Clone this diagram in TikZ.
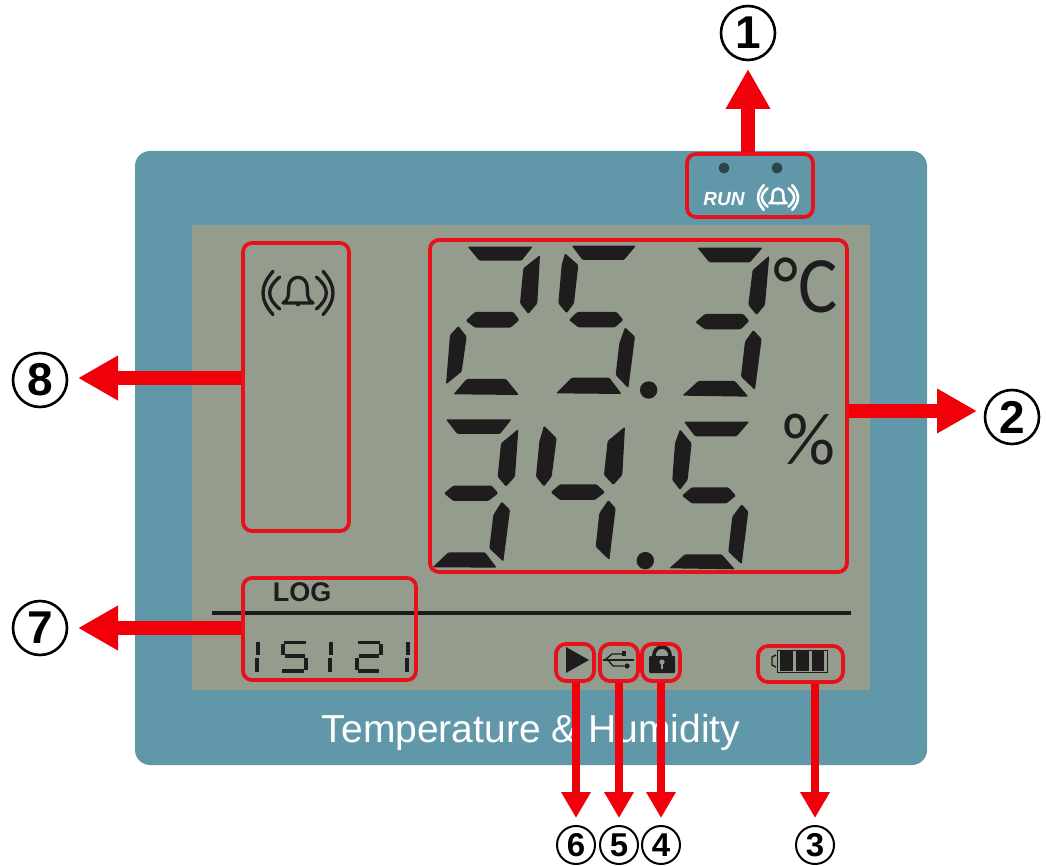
\documentclass[tikz,border=0pt]{standalone}
\usepackage{fontspec}
\setmainfont{Liberation Sans}
\newfontfamily\thinfont{Carlito}
\usetikzlibrary{arrows.meta}
\definecolor{panelc}{HTML}{6198A9}
\definecolor{lcdc}{HTML}{949C8E}
\definecolor{inkc}{HTML}{1F1C1E}
\definecolor{redc}{HTML}{E8101A}
\definecolor{arrowc}{HTML}{F00008}
\newcommand{\sz}[1]{\fontsize{#1}{#1}\selectfont}
\tikzset{
  callbox/.style={draw=redc,line width=3.8pt,rounded corners=9pt,inner sep=0pt,fill=none},
  iconbox/.style={draw=redc,line width=3.8pt,rounded corners=10pt,inner sep=0pt,fill=none},
  bigarrow/.style={draw=arrowc,line width=14pt,-{Triangle[width=42pt,length=40pt,fill=arrowc]}},
  smallarrow/.style={draw=arrowc,line width=8pt,-{Triangle[width=28pt,length=26pt,fill=arrowc]}},
  bignum/.style={circle,draw=black,line width=2.6pt,minimum size=54pt,inner sep=0pt,font=\bfseries\sz{46}},
  smallnum/.style={circle,draw=black,line width=2pt,minimum size=38pt,inner sep=0pt,font=\bfseries\sz{33}},
  seg/.style={fill=inkc,draw=none,rounded corners=1.2pt},
  miniseg/.style={draw=inkc,line width=3.3pt},
  pics/bellicon/.style n args={2}{code={
    \draw[#1,line width=#2,line join=round,line cap=round]
      (-45,30) .. controls (-28,22) and (-28,5) .. (-28,-15)
      .. controls (-28,-35) and (-15,-47) .. (0,-47)
      .. controls (15,-47) and (28,-35) .. (28,-15)
      .. controls (28,5) and (28,22) .. (45,30) -- cycle;
    \fill[#1] (-8,32) arc[start angle=180,end angle=360,x radius=8,y radius=-8] -- cycle;
    \draw[#1,line width=#2,line cap=round] (-55,-48) .. controls (-95,-15) and (-95,15) .. (-55,48);
    \draw[#1,line width=#2,line cap=round] (-75,-65) .. controls (-115,-20) and (-115,20) .. (-75,65);
    \draw[#1,line width=#2,line cap=round] (55,-48) .. controls (95,-15) and (95,15) .. (55,48);
    \draw[#1,line width=#2,line cap=round] (75,-65) .. controls (115,-20) and (115,20) .. (75,65);
  }}
}
\begin{document}
\begin{tikzpicture}[x=1pt,y=-1pt]
\useasboundingbox (0,0) rectangle (1046,866);
\fill[white] (0,0) rectangle (1046,866);
% housing and LCD
\fill[panelc,rounded corners=15pt] (135,151) rectangle (927,765);
\fill[lcdc] (192,225) rectangle (870,690);
\node[text=white,font=\sz{39}] (title) at (531,732) {Temperature \& Humidity};
% main digits, in 3x coordinates
\begin{scope}[shift={(420,235)},x=0.3333pt,y=-0.3333pt]
  % row 1
  \fill[seg] (143,35)--(338,35)--(305,77)--(178,77)--cycle;
  \fill[seg] (360,60)--(352,205)--(325,237)--(300,205)--(310,100)--cycle;
  \fill[seg] (137,257)--(165,231)--(280,231)--(298,255)--(272,278)--(165,278)--cycle;
  \fill[seg] (115,273)--(140,305)--(125,410)--(78,448)--(90,300)--cycle;
  \fill[seg] (100,478)--(140,432)--(258,432)--(297,480)--cycle;
  \fill[seg] (455,32)--(648,32)--(612,75)--(488,75)--cycle;
  \fill[seg] (435,55)--(475,90)--(462,205)--(440,235)--(415,205)--(425,90)--cycle;
  \fill[seg] (447,255)--(472,231)--(590,231)--(610,255)--(585,277)--(475,277)--cycle;
  \fill[seg] (615,277)--(645,305)--(625,460)--(587,420)--(598,325)--cycle;
  \fill[seg] (408,475)--(455,428)--(568,428)--(605,477)--cycle;
  \fill[inkc] (686,465) circle (26);
  \fill[seg] (832,38)--(1028,38)--(990,82)--(868,82)--cycle;
  \fill[seg] (1048,62)--(1035,210)--(1010,240)--(985,210)--(998,105)--cycle;
  \fill[seg] (826,262)--(855,237)--(970,237)--(988,258)--(962,283)--(855,283)--cycle;
  \fill[seg] (1000,285)--(1025,312)--(1005,465)--(963,425)--(975,320)--cycle;
  \fill[seg] (787,482)--(835,438)--(945,438)--(985,485)--cycle;
  % row 2
  \fill[seg] (78,553)--(275,553)--(240,597)--(112,597)--cycle;
  \fill[seg] (295,582)--(285,725)--(258,755)--(233,725)--(243,625)--cycle;
  \fill[seg] (72,775)--(100,752)--(215,752)--(235,775)--(205,798)--(100,798)--cycle;
  \fill[seg] (245,800)--(270,825)--(250,980)--(208,940)--(220,840)--cycle;
  \fill[seg] (38,997)--(85,952)--(195,952)--(230,998)--cycle;
  \fill[seg] (372,572)--(410,610)--(395,725)--(372,755)--(348,725)--(358,620)--cycle;
  \fill[seg] (615,575)--(607,720)--(580,750)--(552,720)--(563,618)--cycle;
  \fill[seg] (392,772)--(420,748)--(530,748)--(555,772)--(525,795)--(420,795)--cycle;
  \fill[seg] (565,795)--(587,820)--(568,975)--(527,935)--(538,835)--cycle;
  \fill[inkc] (676,977) circle (26);
  \fill[seg] (792,560)--(988,560)--(950,604)--(825,604)--cycle;
  \fill[seg] (780,583)--(815,625)--(803,735)--(780,765)--(757,735)--(765,625)--cycle;
  \fill[seg] (786,782)--(815,757)--(925,757)--(948,782)--(920,805)--(815,805)--cycle;
  \fill[seg] (965,808)--(985,830)--(965,988)--(925,950)--(937,845)--cycle;
  \fill[seg] (748,1000)--(795,958)--(905,958)--(945,1003)--cycle;
\end{scope}
\node[text=inkc,font=\thinfont\sz{80},inner sep=0pt,xscale=0.92] (degc) at (806,285) {°C};
\node[text=inkc,font=\thinfont\sz{74},inner sep=0pt] (pct) at (809,440) {\%};
% LCD small items
\draw[inkc,line width=4pt] (212,613) -- (851,613);
\node[text=inkc,font=\bfseries\sz{27},inner sep=0pt] (log) at (302,592) {LOG};
\pic[scale=0.3333] at (298,293) {bellicon={inkc}{3.3pt}};
\draw[miniseg] (258,642)--(258,655) (257,658)--(257,672);
\draw[miniseg] (284,642.5)--(306,642.5) (283,644)--(283,655) (285,656)--(305,656) (306,658)--(306,670) (282,671)--(304,671);
\draw[miniseg] (331,642)--(331,655) (330,658)--(330,672);
\draw[miniseg] (358,642.5)--(380,642.5) (381,644)--(381,655) (359,656)--(379,656) (357,658)--(357,670) (358,671)--(379,671);
\draw[miniseg] (408,642)--(408,655) (407,658)--(407,672);
% play
\fill[inkc] (566,647) -- (589,660) -- (566,673) -- cycle;
% usb
\draw[inkc,line width=1.6pt] (603,660) -- (634,660);
\draw[inkc,line width=1.4pt] (605,660) -- (612,654) -- (622,654) (608,660) -- (613,666) -- (624,666);
\fill[inkc] (622,651) rectangle (626,656);
\fill[inkc] (627,666) circle (2.6);
% lock
\fill[inkc,rounded corners=1pt] (649,656) rectangle (675,673);
\draw[inkc,line width=3.6pt] (654,657) -- (654,655) arc[start angle=180,end angle=360,radius=8] -- (670,657);
\fill[lcdc] (662,662) circle (2.6);
\fill[lcdc] (660.8,662) rectangle (663.2,669);
% battery
\draw[inkc,line width=1pt] (777,650) rectangle (827,672);
\draw[inkc,line width=1.4pt] (776,655) -- (772,657) -- (772,665) -- (776,667);
\fill[inkc] (780,651) rectangle (793,671);
\fill[inkc] (796,651) rectangle (809,671);
\fill[inkc] (812,651) rectangle (824,671);
% front LEDs
\fill[black!55!panelc] (724,168) circle (5.5);
\fill[black!55!panelc] (777,168) circle (5.5);
\node[text=white,font=\bfseries\itshape\sz{19},inner sep=0pt] (run) at (724,199) {RUN};
\pic[scale=0.19] at (778,197.5) {bellicon={white}{2.6pt}};
% call-out boxes
\node[callbox,minimum width=126pt,minimum height=63pt] (b1) at (750,185.5) {};
\node[callbox,minimum width=417pt,minimum height=332pt] (b2) at (638.5,406) {};
\node[iconbox,minimum width=85pt,minimum height=36pt] (b3) at (800.5,664) {};
\node[iconbox,minimum width=38pt,minimum height=37pt] (b4) at (661,662.5) {};
\node[iconbox,minimum width=38pt,minimum height=37pt] (b5) at (619,662.5) {};
\node[iconbox,minimum width=38pt,minimum height=37pt] (b6) at (575,662.5) {};
\node[callbox,minimum width=173pt,minimum height=102pt] (b7) at (329.5,629) {};
\node[callbox,minimum width=106pt,minimum height=288pt] (b8) at (296,387) {};
% numbers
\node[bignum] (n1) at (748,33) {1};
\node[bignum] (n2) at (1012,417) {2};
\node[smallnum] (n3) at (815,845) {3};
\node[smallnum] (n4) at (661,845) {4};
\node[smallnum] (n5) at (619,845) {5};
\node[smallnum] (n6) at (576,845) {6};
\node[bignum] (n7) at (40,628) {7};
\node[bignum] (n8) at (40,380) {8};
% free ends of arrows
\coordinate (t1) at (748,69);
\coordinate (t2) at (977,411);
\coordinate (t3) at (815,818);
\coordinate (t4) at (661,818);
\coordinate (t5) at (619,818);
\coordinate (t6) at (576,818);
\coordinate (t7) at (78,628);
\coordinate (t8) at (78,378);
% arrows
\draw[bigarrow] (b1.north -| t1) -- (t1);
\draw[bigarrow] (b2.east |- t2) -- (t2);
\draw[smallarrow] (b3.south -| t3) -- (t3);
\draw[smallarrow] (b4.south -| t4) -- (t4);
\draw[smallarrow] (b5.south -| t5) -- (t5);
\draw[smallarrow] (b6.south -| t6) -- (t6);
\draw[bigarrow] (b7.west |- t7) -- (t7);
\draw[bigarrow] (b8.west |- t8) -- (t8);
\end{tikzpicture}
\end{document}
